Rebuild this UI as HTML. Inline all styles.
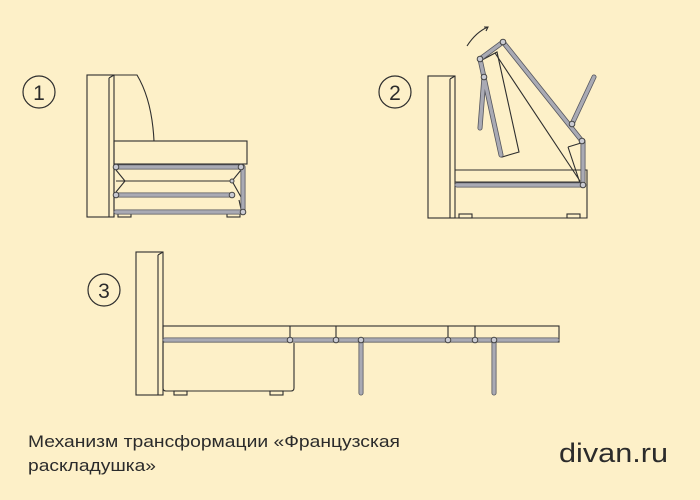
<!DOCTYPE html>
<html><head><meta charset="utf-8"><style>
html,body{margin:0;padding:0;background:#fdf0c8;}
svg{display:block;}
text{font-family:"Liberation Sans","DejaVu Sans",sans-serif;fill:#2b2b2b;}
</style></head><body>
<svg width="700" height="500" viewBox="0 0 700 500" xmlns="http://www.w3.org/2000/svg">
<rect width="700" height="500" fill="#fdf0c8"/>
<g fill="none" stroke="#2e2e2e" stroke-width="1.2">
<circle cx="39" cy="92" r="16"/>
<circle cx="395" cy="92" r="16"/>
<circle cx="104" cy="290" r="16"/>
</g>
<text x="39" y="100" font-size="21" text-anchor="middle">1</text>
<text x="395" y="100" font-size="21" text-anchor="middle">2</text>
<text x="104" y="298" font-size="21" text-anchor="middle">3</text>

<!-- FIG 1 -->
<g fill="none" stroke="#2e2e2e" stroke-width="1.1">
<rect x="87" y="75" width="27" height="142"/>
<path d="M109 78 L114 75 M109 78 V217"/>
<path d="M114 75 H137 Q152 100 154 141"/>
<rect x="114" y="141" width="133" height="23"/>
<path d="M114 164 V217"/>
<path d="M116 181 H232 M116 170 L125 181 L116 192 M241 170 L232 181 L241 197"/>
<path d="M239 200 L241 209"/>
<rect x="118" y="212" width="13" height="5"/>
<rect x="227" y="212" width="13" height="5"/>
</g>
<g stroke="#55565e" stroke-width="5" stroke-linecap="round" fill="none">
<path d="M116 167 H241 M116 195 H232 M116 212 H243 M243 167 V212"/>
</g>
<g stroke="#a9aab4" stroke-width="3.4" stroke-linecap="round" fill="none">
<path d="M116 167 H241 M116 195 H232 M116 212 H243 M243 167 V212"/>
</g>
<g fill="#c9cad2" stroke="#444" stroke-width="1">
<circle cx="116" cy="167" r="2.8"/><circle cx="241" cy="167" r="2.8"/>
<circle cx="116" cy="195" r="2.8"/><circle cx="232" cy="195" r="2.8"/>
<circle cx="232" cy="181" r="2"/><circle cx="243" cy="212" r="2.8"/>
</g>

<!-- FIG 2 -->
<g fill="none" stroke="#2e2e2e" stroke-width="1.1">
<rect x="428" y="76" width="27" height="142"/>
<path d="M450 79 L455 76 M450 79 V218"/>
<path d="M455 170 H583 M455 182 H583 M455 218 H587 V170 H583"/>
<rect x="459" y="214" width="13" height="4"/>
<rect x="567" y="214" width="13" height="4"/>
<path d="M482 60 L497 52 L519 152 L502 157 Z"/>
<path d="M495 53 L580 181 M568 147 L580 183 M568 147 L581 143"/>
<path d="M467 46 Q476 32 488 27 M484 27 L488 27 L486 31"/>
</g>
<g stroke="#55565e" stroke-width="5" stroke-linecap="round" fill="none">
<path d="M457 185 H583 M583 141 V185 M503 42 L582 141 M503 42 L480 59 L501 155 M484 77 L480 128 M572 124 L594 77"/>
</g>
<g stroke="#a9aab4" stroke-width="3.4" stroke-linecap="round" fill="none">
<path d="M457 185 H583 M583 141 V185 M503 42 L582 141 M503 42 L480 59 L501 155 M484 77 L480 128 M572 124 L594 77"/>
</g>
<g fill="#c9cad2" stroke="#444" stroke-width="1">
<circle cx="503" cy="42" r="2.8"/><circle cx="480" cy="59" r="2.8"/>
<circle cx="484" cy="77" r="2.8"/><circle cx="572" cy="124" r="2.8"/>
<circle cx="582" cy="141" r="2.8"/><circle cx="583" cy="185" r="2.8"/>
</g>

<!-- FIG 3 -->
<g fill="none" stroke="#2e2e2e" stroke-width="1.1">
<rect x="136" y="252" width="27" height="143"/>
<path d="M158 255 L163 252 M158 255 V395"/>
<rect x="163" y="326" width="396" height="16"/>
<path d="M290 326 V339 M336 326 V339 M448 326 V339 M475 326 V339"/>
<path d="M163 343 V388 Q163 391 166 391 H291 Q294 391 294 388 V343"/>
<rect x="174" y="391" width="13" height="4"/>
<rect x="270" y="391" width="13" height="4"/>
</g>
<g stroke="#55565e" stroke-width="5" stroke-linecap="round" fill="none">
<path d="M165 340 H557 M361 340 V393 M494 340 V393"/>
</g>
<g stroke="#a9aab4" stroke-width="3.4" stroke-linecap="round" fill="none">
<path d="M165 340 H557 M361 340 V393 M494 340 V393"/>
</g>
<g fill="#c9cad2" stroke="#444" stroke-width="1">
<circle cx="290" cy="340" r="2.8"/><circle cx="336" cy="340" r="2.8"/>
<circle cx="361" cy="340" r="2.8"/><circle cx="448" cy="340" r="2.8"/>
<circle cx="475" cy="340" r="2.8"/><circle cx="494" cy="340" r="2.8"/>
</g>

<text x="28" y="447" font-size="17" textLength="372" lengthAdjust="spacingAndGlyphs">Механизм трансформации «Французская</text>
<text x="28" y="471" font-size="17" textLength="128" lengthAdjust="spacingAndGlyphs">раскладушка»</text>
<text x="559" y="462" font-size="27" fill="#111" textLength="109" lengthAdjust="spacingAndGlyphs">divan.ru</text>
</svg>
</body></html>
